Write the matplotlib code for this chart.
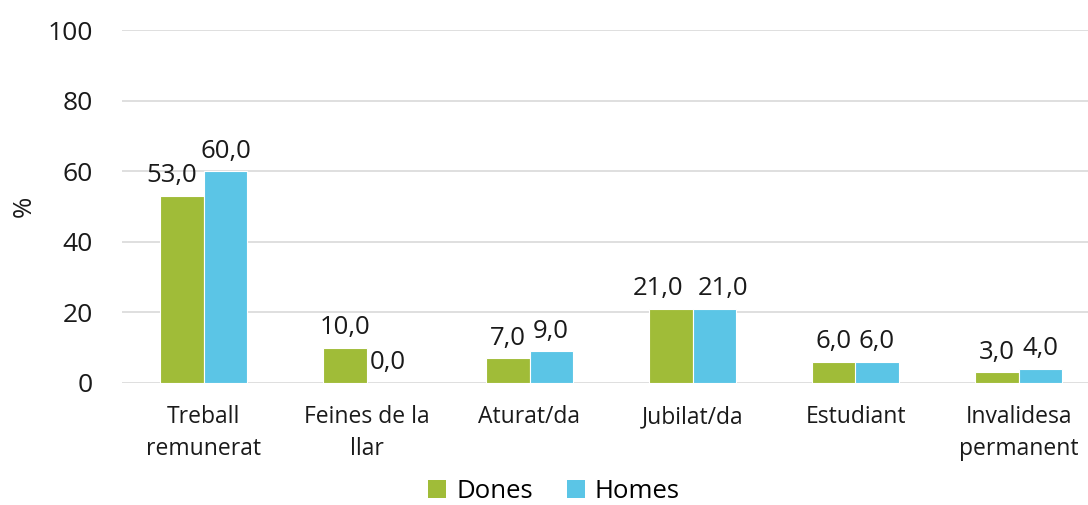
import matplotlib
matplotlib.use("Agg")
import matplotlib.pyplot as plt
import numpy as np
from matplotlib.patches import Patch

categories = ["Treball\nremunerat", "Feines de la\nllar", "Aturat/da", "Jubilat/da", "Estudiant", "Invalidesa\npermanent"]
dones = [53.0, 10.0, 7.0, 21.0, 6.0, 3.0]
homes = [60.0, 0.0, 9.0, 21.0, 6.0, 4.0]
series_names = ["Dones", "Homes"]
yticks = [0, 20, 40, 60, 80, 100]

# horizontal label nudges (pixels) to avoid overlapping labels, as in the original
dones_label_dx = [-10, 0, 0, -13, 0, 0]
homes_label_dx = [1, 0, 0, 9, 0, 0]

GREEN = "#A0BC38"
BLUE = "#5BC5E6"
GRID = "#D9D9D9"
TXT = "#1a1a1a"

plt.rcParams['font.family'] = ['Open Sans', 'DejaVu Sans']

fig = plt.figure(figsize=(10.88, 5.05), dpi=100)
ax = fig.add_axes([122/1088, 1-383/505, 978/1088, 353/505])

x = np.arange(len(categories))
w = 0.264
b1 = ax.bar(x - w/2, dones, width=w, color=GREEN, edgecolor="white", linewidth=0.8, zorder=3)
b2 = ax.bar(x + w/2, homes, width=w, color=BLUE, edgecolor="white", linewidth=0.8, zorder=3)

for bars, vals, dxs in ((b1, dones, dones_label_dx), (b2, homes, homes_label_dx)):
    for r, v, dx in zip(bars, vals, dxs):
        ax.annotate(f"{v:.1f}".replace(".", ","), (r.get_x() + r.get_width()/2, v),
                    xytext=(dx, 7.5), textcoords="offset pixels", ha="center", va="bottom",
                    fontsize=18.5, color=TXT)

ax.set_xlim(-0.5, len(categories) - 0.5)
ax.set_ylim(0, 100)
ax.set_yticks(yticks)
ax.set_yticklabels([str(t) for t in yticks], fontsize=19, color=TXT)
ax.set_xticks(x)
ax.set_xticklabels(categories, fontsize=16.5, color=TXT, linespacing=1.42)
ax.tick_params(axis="both", length=0)
ax.tick_params(axis="x", pad=16)
ax.tick_params(axis="y", pad=21)
ax.grid(axis="y", color=GRID, linewidth=1.2, zorder=0)
for s in ax.spines.values():
    s.set_visible(False)
ax.set_ylabel("%", fontsize=18.5, color=TXT, labelpad=8)

handles = [Patch(facecolor=GREEN), Patch(facecolor=BLUE)]
fig.legend(handles, series_names, loc="center", bbox_to_anchor=(554/1088, 1-491/505),
           ncol=2, frameon=False, fontsize=18.5, handlelength=0.7, handleheight=0.7,
           handletextpad=0.4, columnspacing=1.3, borderpad=0.2)

fig.savefig("out.png", dpi=100)
